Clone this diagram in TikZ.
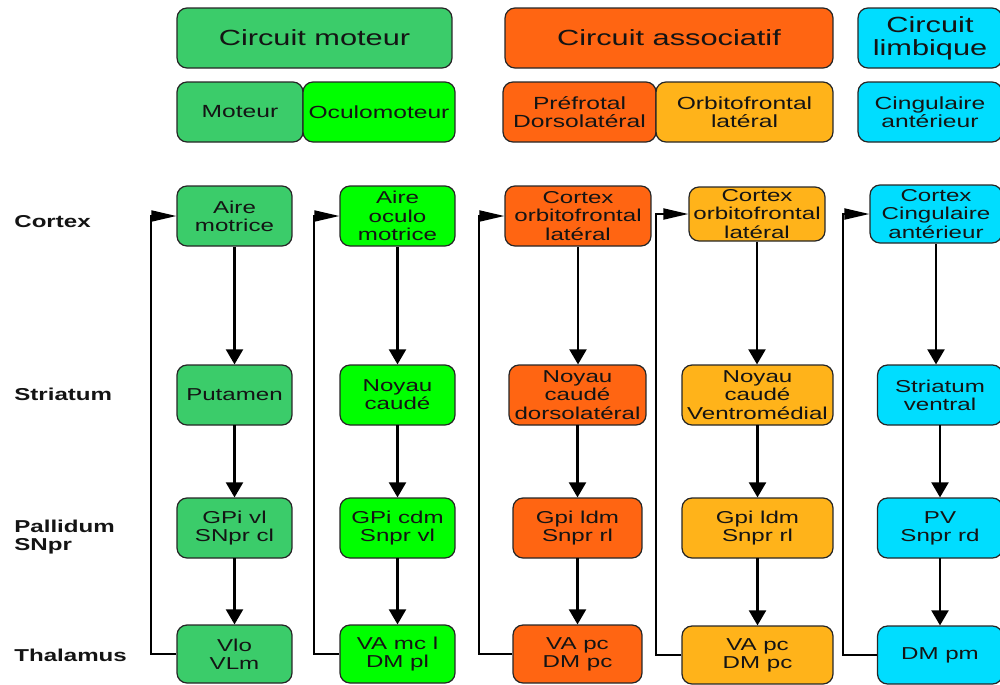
\documentclass[tikz,border=0pt]{standalone}
\usepackage{fontspec}
\setmainfont{Liberation Sans}[FakeStretch=1.4]
\usetikzlibrary{arrows.meta}

\definecolor{vertmot}{HTML}{3BCC6A}
\definecolor{vertocu}{HTML}{00FF00}
\definecolor{orangepf}{HTML}{FF6512}
\definecolor{ambreof}{HTML}{FFB31A}
\definecolor{cyanlim}{HTML}{00DDFF}
\definecolor{texte}{HTML}{141414}

\tikzset{
  box/.style={draw=black!85, line width=0.7pt, rounded corners=0.2cm, align=center,
    inner sep=0pt, text=texte, font=\fontsize{9.8}{10.4}\selectfont},
  titre/.style={box, font=\fontsize{12.5}{13}\selectfont, minimum height=1.2cm},
  soustitre/.style={box, font=\fontsize{10}{10.3}\selectfont, minimum height=1.2cm},
  niveau/.style={anchor=west, inner sep=0pt, align=left, text=texte,
    font=\fontsize{9.8}{10.6}\selectfont\bfseries},
  fl/.style={-{Triangle[length=0.3cm,width=0.34cm]}, line width=1.2pt},
  retour/.style={-{Triangle[length=0.5cm,width=0.22cm]}, line width=1.1pt}
}

\begin{document}
\begin{tikzpicture}[x=0.02cm, y=-0.02cm]
  \useasboundingbox (0,0) rectangle (1000,684);

  % Circuits
  \node[titre, fill=vertmot, minimum width=5.5cm] (cmot) at (314.5,38) {Circuit moteur};
  \node[titre, fill=orangepf, minimum width=6.56cm] (cass) at (669,38) {Circuit associatif};
  \node[titre, fill=cyanlim, minimum width=2.88cm] (clim) at (930,38) {Circuit\\limbique};

  % Sous-circuits
  \node[soustitre, fill=vertmot, minimum width=2.52cm] (smot) at (240,112) {Moteur};
  \node[soustitre, fill=vertocu, minimum width=3.04cm] (socu) at (379,112) {Oculomoteur};
  \node[soustitre, fill=orangepf, minimum width=3.06cm] (spre) at (579.5,112) {Préfrotal\\Dorsolatéral};
  \node[soustitre, fill=ambreof, minimum width=3.54cm] (sorb) at (744.5,112) {Orbitofrontal\\latéral};
  \node[soustitre, fill=cyanlim, minimum width=2.88cm] (scin) at (930,112) {Cingulaire\\antérieur};

  % Niveaux
  \node[niveau] (ncx) at (14,222) {Cortex};
  \node[niveau] (nst) at (14,394) {Striatum};
  \node[niveau] (npa) at (14,537) {Pallidum\\SNpr};
  \node[niveau] (nth) at (14,655) {Thalamus};

  % Moteur
  \node[box, fill=vertmot, minimum width=2.3cm, minimum height=1.2cm] (cx1) at (234.5,216) {Aire\\motrice};
  \node[box, fill=vertmot, minimum width=2.3cm, minimum height=1.2cm] (st1) at (234.5,395) {Putamen};
  \node[box, fill=vertmot, minimum width=2.3cm, minimum height=1.2cm] (pa1) at (234.5,528) {GPi vl\\SNpr cl};
  \node[box, fill=vertmot, minimum width=2.3cm, minimum height=1.16cm] (th1) at (234.5,654) {Vlo\\VLm};

  % Oculomoteur
  \node[box, fill=vertocu, minimum width=2.3cm, minimum height=1.2cm] (cx2) at (397.5,216) {Aire\\oculo\\motrice};
  \node[box, fill=vertocu, minimum width=2.3cm, minimum height=1.2cm] (st2) at (397.5,395) {Noyau\\caudé};
  \node[box, fill=vertocu, minimum width=2.3cm, minimum height=1.2cm] (pa2) at (397.5,528) {GPi cdm\\Snpr vl};
  \node[box, fill=vertocu, minimum width=2.3cm, minimum height=1.16cm] (th2) at (397.5,654) {VA mc l\\DM pl};

  % Prefrontal dorsolateral
  \node[box, fill=orangepf, minimum width=2.92cm, minimum height=1.2cm] (cx3) at (578,216) {Cortex\\orbitofrontal\\latéral};
  \node[box, fill=orangepf, minimum width=2.74cm, minimum height=1.2cm] (st3) at (577.5,395) {Noyau\\caudé\\dorsolatéral};
  \node[box, fill=orangepf, minimum width=2.58cm, minimum height=1.2cm] (pa3) at (577.5,528) {Gpi ldm\\Snpr rl};
  \node[box, fill=orangepf, minimum width=2.58cm, minimum height=1.16cm] (th3) at (577.5,654) {VA pc\\DM pc};

  % Orbitofrontal lateral
  \node[box, fill=ambreof, minimum width=2.72cm, minimum height=1.08cm] (cx4) at (757,214) {Cortex\\orbitofrontal\\latéral};
  \node[box, fill=ambreof, minimum width=3.02cm, minimum height=1.2cm] (st4) at (757.5,395) {Noyau\\caudé\\Ventromédial};
  \node[box, fill=ambreof, minimum width=3.02cm, minimum height=1.2cm] (pa4) at (757.5,528) {Gpi ldm\\Snpr rl};
  \node[box, fill=ambreof, minimum width=3.02cm, minimum height=1.16cm] (th4) at (757.5,655) {VA pc\\DM pc};

  % Cingulaire anterieur
  \node[box, fill=cyanlim, minimum width=2.64cm, minimum height=1.16cm] (cx5) at (936,214) {Cortex\\Cingulaire\\antérieur};
  \node[box, fill=cyanlim, minimum width=2.5cm, minimum height=1.2cm] (st5) at (940,395) {Striatum\\ventral};
  \node[box, fill=cyanlim, minimum width=2.5cm, minimum height=1.2cm] (pa5) at (940,528) {PV\\Snpr rd};
  \node[box, fill=cyanlim, minimum width=2.5cm, minimum height=1.16cm] (th5) at (940,655) {DM pm};

  % Fleches descendantes
  \foreach \i in {1,...,5} {
    \draw[fl] (cx\i.south) -- (cx\i.south |- st\i.north);
    \draw[fl] (st\i) ++(0,30) -- (pa\i.north);
    \draw[fl] (pa\i) ++(0,30) -- (th\i.north);
  }

  % Boucles de retour
  \draw[retour] (th1.west) -| (151,400) |- (cx1.west);
  \draw[retour] (th2.west) -| (314,400) |- (cx2.west);
  \draw[retour] (th3.west) -| (479,400) |- (cx3.west);
  \draw[retour] (th4.west) -| (656,400) |- (cx4.west);
  \draw[retour] (th5.west) -| (843,400) |- (cx5.west);
\end{tikzpicture}
\end{document}
